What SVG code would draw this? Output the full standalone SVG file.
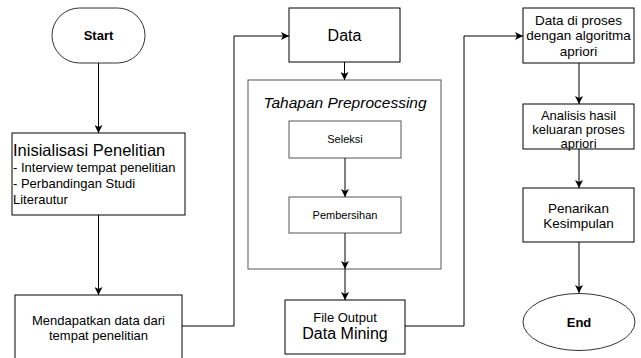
<svg xmlns="http://www.w3.org/2000/svg" width="641" height="358" viewBox="0 0 641 358">
<defs>
<style>
text{font-family:"Liberation Sans",Arial,sans-serif;fill:#000;}
.box{fill:#fff;stroke:#000;stroke-width:1;}
.gbox{fill:#fff;stroke:#555;stroke-width:1;}
.term{fill:#fff;stroke:#333;stroke-width:1;}
.c{fill:none;stroke:#000;stroke-width:1;}
.m{text-anchor:middle;}
.r{font-size:13.5px;}
</style>
<marker id="ah" viewBox="0 0 8 8" refX="8" refY="4" markerWidth="8" markerHeight="8" markerUnits="userSpaceOnUse" orient="auto">
<path d="M0,0 L8,4 L0,8 L2,4 Z" fill="#000"/>
</marker>
</defs>
<rect width="641" height="358" fill="#fff"/>

<g id="start">
<rect class="term" x="52" y="8" width="93" height="55" rx="27.5" ry="27.5"/>
<text class="m" x="98.5" y="40" font-size="13" font-weight="bold">Start</text>
</g>

<g id="inisialisasi">
<rect class="box" x="12" y="133" width="173" height="82"/>
<text x="13" y="156" font-size="16.5">Inisialisasi Penelitian</text>
<text x="13" y="172" font-size="13">- Interview tempat penelitian</text>
<text x="13" y="188" font-size="13">- Perbandingan Studi</text>
<text x="13" y="204" font-size="13">Literautur</text>
</g>

<g id="mendapatkan">
<rect class="box" x="15" y="295" width="167" height="70"/>
<text class="m" x="98.5" y="325" font-size="13">Mendapatkan data dari</text>
<text class="m" x="98.5" y="340" font-size="13">tempat penelitian</text>
</g>

<g id="data">
<rect class="box" x="289" y="8" width="111" height="54"/>
<text class="m" x="344.5" y="41" font-size="16">Data</text>
</g>

<g id="preprocessing">
<rect class="gbox" x="248" y="80" width="193" height="189"/>
<text class="m" x="345" y="108" font-size="15.5" font-style="italic">Tahapan Preprocessing</text>
</g>

<g id="seleksi">
<rect class="gbox" x="289" y="121" width="112" height="37"/>
<text class="m" x="345" y="143" font-size="11">Seleksi</text>
</g>

<g id="pembersihan">
<rect class="gbox" x="289" y="197" width="112" height="36"/>
<text class="m" x="345" y="219" font-size="11">Pembersihan</text>
</g>

<g id="fileoutput">
<rect class="box" x="285" y="300" width="120" height="54"/>
<text class="m" x="345" y="322" font-size="13">File Output</text>
<text class="m" x="345" y="339" font-size="16">Data Mining</text>
</g>

<g id="apriori">
<rect class="box" x="523" y="8" width="111" height="55"/>
<text class="m r" x="578.5" y="25">Data di proses</text>
<text class="m r" x="578.5" y="40">dengan algoritma</text>
<text class="m r" x="578.5" y="55.5">apriori</text>
</g>

<g id="analisis">
<rect class="box" x="523" y="104" width="111" height="45"/>
<text class="m" x="578.5" y="119.5" font-size="13">Analisis hasil</text>
<text class="m" x="578.5" y="134" font-size="13">keluaran proses</text>
<text class="m" x="578.5" y="148" font-size="13">apriori</text>
</g>

<g id="penarikan">
<rect class="box" x="523" y="188" width="111" height="54"/>
<text class="m r" x="578.5" y="213">Penarikan</text>
<text class="m r" x="578.5" y="228">Kesimpulan</text>
</g>

<g id="end">
<ellipse class="term" cx="579" cy="322" rx="56" ry="28.5"/>
<text class="m" x="579" y="327" font-size="13" font-weight="bold">End</text>
</g>

<g id="connectors">
<path class="c" d="M98.5 63 V133" marker-end="url(#ah)"/>
<path class="c" d="M98.5 215 V295" marker-end="url(#ah)"/>
<path class="c" d="M182 326 H234 V36 H289" marker-end="url(#ah)"/>
<path class="c" d="M344.5 62 V80" marker-end="url(#ah)"/>
<path class="c" d="M345 158 V197" marker-end="url(#ah)"/>
<path class="c" d="M345 233 V269" marker-end="url(#ah)"/>
<path class="c" d="M345 269 V300" marker-end="url(#ah)"/>
<path class="c" d="M405 326 H464 V36 H523" marker-end="url(#ah)"/>
<path class="c" d="M579 63 V104" marker-end="url(#ah)"/>
<path class="c" d="M579 149 V188" marker-end="url(#ah)"/>
<path class="c" d="M579 242 V293" marker-end="url(#ah)"/>
</g>
</svg>
